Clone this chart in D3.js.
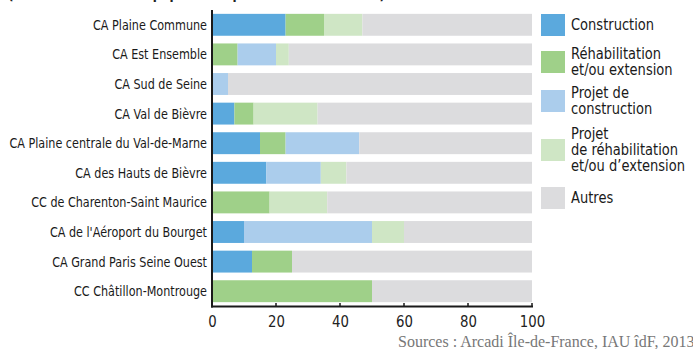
<!DOCTYPE html>
<html><head><meta charset="utf-8">
<script src="https://cdn.jsdelivr.net/npm/d3@7/dist/d3.min.js"></script>
<style>
body{margin:0;background:#fff;}
svg{display:block;}
text{font-family:"DejaVu Sans",sans-serif;}
</style></head>
<body>
<svg id="c" width="693" height="349"></svg>
<script>
const categories = ["CA Plaine Commune","CA Est Ensemble","CA Sud de Seine","CA Val de Bièvre","CA Plaine centrale du Val-de-Marne","CA des Hauts de Bièvre","CC de Charenton-Saint Maurice","CA de l'Aéroport du Bourget","CA Grand Paris Seine Ouest","CC Châtillon-Montrouge"];
const seriesNames = ["Construction","Réhabilitation et/ou extension","Projet de construction","Projet de réhabilitation et/ou d’extension","Autres"];
const construction   = [23, 0, 0, 7, 15, 17, 0, 10, 12.5, 0];
const rehabilitation = [12, 8, 0, 6, 8, 0, 18, 0, 12.5, 50];
const projetConstr   = [0, 12, 5, 0, 23, 17, 0, 40, 0, 0];
const projetRehab    = [12, 4, 0, 20, 0, 8, 18, 10, 0, 0];
const autres = categories.map((c,i)=>100-construction[i]-rehabilitation[i]-projetConstr[i]-projetRehab[i]);
const xTicks = [0,20,40,60,80,100];
const legendLines = [["Construction"],["Réhabilitation","et/ou extension"],["Projet de","construction"],["Projet","de réhabilitation","et/ou d’extension"],["Autres"]];
const colors = ["#5ba9dd","#9fd089","#abcdec","#cfe6c5","#dcdcde"];

const keys = ["c","r","pc","pr","a"];
const rows = categories.map((cat,i)=>({cat, c:construction[i], r:rehabilitation[i], pc:projetConstr[i], pr:projetRehab[i], a:autres[i]}));
const stack = d3.stack().keys(keys)(rows);

const svg = d3.select("#c");
const x = d3.scaleLinear().domain([0,100]).range([212,532]);
const y = d3.scaleBand().domain(categories).range([10,306]).paddingInner(0.26).paddingOuter(0.13);

// condense text horizontally (no condensed font installed)
function condense(sel, k){
  sel.each(function(){
    const L = this.getComputedTextLength();
    d3.select(this).attr("textLength", L*k).attr("lengthAdjust","spacingAndGlyphs");
  });
}

// title fragment (cut off at top, as in the reference)
const title = svg.append("text").attr("x",8).attr("y",-1).attr("font-weight","bold").attr("font-size",15)
  .attr("fill","#222").text("(en % du nombre d'équipements par intercommunalité)");
condense(title, 0.8);

svg.append("g").selectAll("g").data(stack).join("g").attr("fill",(d,i)=>colors[i])
  .selectAll("rect").data(d=>d).join("rect")
  .attr("x",d=>x(d[0])).attr("width",d=>x(d[1])-x(d[0]))
  .attr("y",d=>y(d.data.cat)).attr("height",y.bandwidth());

// category labels
const labels = svg.append("g").selectAll("text").data(categories).join("text")
  .attr("x",207).attr("y",d=>y(d)+y.bandwidth()/2).attr("dy","0.36em")
  .attr("text-anchor","end").attr("font-size",14).attr("fill","#1a1a1a").text(d=>d);
condense(labels, 0.8);

// axes
const ax = svg.append("g").attr("transform","translate(0,306)")
  .call(d3.axisBottom(x).tickValues(xTicks).tickSize(0).tickPadding(10));
ax.select(".domain").remove();
const tl = ax.selectAll("text").attr("font-size",16).attr("fill","#222")
  .style("font-family",'"DejaVu Sans",sans-serif');
condense(tl, 0.83);
svg.append("g").selectAll("line").data(xTicks).join("line")
  .attr("x1",d=>x(d)).attr("x2",d=>x(d)).attr("y1",303).attr("y2",307)
  .attr("stroke","#1a1a1a").attr("stroke-width",1.5);
svg.append("line").attr("x1",211).attr("x2",533).attr("y1",306.5).attr("y2",306.5).attr("stroke","#1a1a1a").attr("stroke-width",2);
svg.append("line").attr("x1",212).attr("x2",212).attr("y1",10).attr("y2",307.5).attr("stroke","#1a1a1a").attr("stroke-width",2);

// legend
const swY = [14,51,90,139,187];
const lh = 16;
const lg = svg.append("g").selectAll("g").data(seriesNames).join("g");
lg.append("rect").attr("x",541).attr("y",(d,i)=>swY[i]).attr("width",24).attr("height",22).attr("fill",(d,i)=>colors[i]);
lg.each(function(d,i){
  const lines = legendLines[i];
  const cy = swY[i]+11;
  const start = cy - (lines.length-1)*lh/2;
  const t = d3.select(this).selectAll("text").data(lines).join("text")
    .attr("x",571).attr("y",(l,j)=>start+j*lh).attr("dy","0.36em")
    .attr("font-size",15).attr("fill","#1a1a1a").text(l=>l);
  condense(t, 0.87);
});

svg.append("text").attr("x",398).attr("y",347).attr("font-size",16).attr("fill","#777")
  .style("font-family",'"Liberation Serif","DejaVu Serif",serif')
  .text("Sources : Arcadi Île-de-France, IAU îdF, 2013");
</script>
</body></html>
